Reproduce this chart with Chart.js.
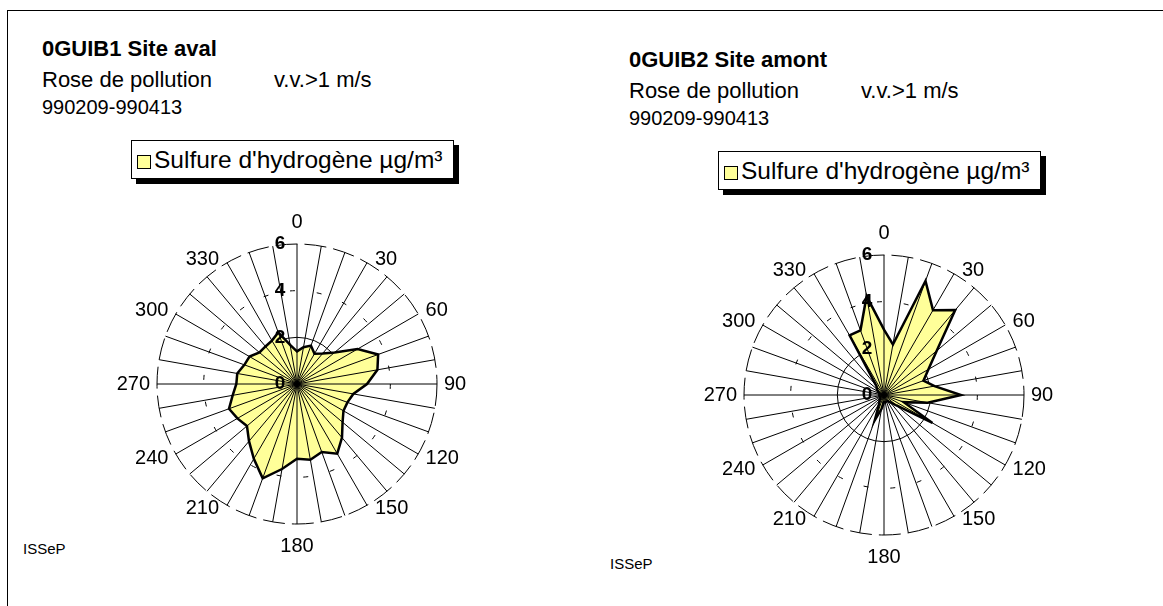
<!DOCTYPE html>
<html>
<head>
<meta charset="utf-8">
<script src="https://cdn.jsdelivr.net/npm/chart.js@4.4.0/dist/chart.umd.min.js"></script>
<style>
  body { margin: 0; width: 1163px; height: 606px; background: #fff; position: relative; overflow: hidden;
         font-family: Arial, "Liberation Sans", sans-serif; color: #000; }
  .frame { position: absolute; left: 7px; top: 10px; width: 1300px; height: 800px; border: 1.5px solid #000; }
  .txt { position: absolute; white-space: nowrap; line-height: 1; }
  .title { font-weight: bold; font-size: 22px; }
  .sub { font-size: 22px; }
  .date { font-size: 20px; }
  .org { font-size: 15px; }
  .legend { position: absolute; width: 321px; height: 37px; border: 1px solid #000; background: #fff;
            box-shadow: 5px 5px 0 #000; font-size: 24.5px; line-height: 37px; white-space: nowrap; }
  .legend .sw { display: inline-block; width: 12px; height: 12px; border: 1px solid #000; background: #FFFF99;
                margin: 0 3px 0 5px; vertical-align: -1px; }
  canvas { position: absolute; }
</style>
</head>
<body>
<div class="frame"></div>
<div id="panels"></div>
<script>
// wind directions (degrees), labelled every 30
const directions = ['0','10','20','30','40','50','60','70','80','90','100','110','120','130','140','150','160','170',
                    '180','190','200','210','220','230','240','250','260','270','280','290','300','310','320','330','340','350'];
const labelEvery = 30;

// H2S concentration per direction, µg/m³
const avalH2S = [1.4, 1.6, 1.75, 1.5, 1.7, 2.1, 3.0, 3.7, 3.5, 3.0, 2.45, 2.3, 2.3, 2.55, 3.0, 3.45, 3.1, 3.3,
                 3.2, 3.7, 4.3, 3.7, 3.2, 2.8, 2.95, 3.1, 2.8, 2.6, 2.6, 2.4, 2.35, 2.1, 2.1, 2.15, 2.35, 1.7];
const amontH2S = [2.8, 2.2, 5.2, 4.2, 4.75, 2.95, 2.2, 1.8, 2.2, 3.3, 1.9, 0.9, 2.4, 0.7, 0.4, 0.3, 0.3, 0.3,
                  0.3, 0.6, 1.15, 0.4, 0.3, 0.2, 0.2, 0.2, 0.2, 0.2, 0.2, 0.2, 0.3, 0.4, 0.5, 2.95, 2.95, 4.3];

const radialMin = 0;
const radialMax = 6;
const radialStep = 2;

const seriesName = "Sulfure d'hydrogène µg/m³";
const panels = [
  { id: 'aval', title: '0GUIB1 Site aval', data: avalH2S, dx: 0, dy: 0, orgDy: 0 },
  { id: 'amont', title: '0GUIB2 Site amont', data: amontH2S, dx: 587, dy: 11, orgDy: 15 }
];

// spokes drawn over the fill, then tick and direction labels
const roseOverlay = {
  id: 'roseOverlay',
  afterDatasetsDraw(chart) {
    const s = chart.scales.r;
    const ctx = chart.ctx;
    const outer = s.getDistanceFromCenterForValue(s.max);
    const labels = chart.data.labels;
    ctx.save();
    ctx.strokeStyle = '#000';
    ctx.lineWidth = 1;
    for (let i = 0; i < labels.length; i++) {
      const p = s.getPointPosition(i, outer);
      ctx.beginPath();
      ctx.moveTo(s.xCenter, s.yCenter);
      ctx.lineTo(p.x, p.y);
      ctx.stroke();
    }

    ctx.fillStyle = '#000';
    ctx.textAlign = 'center';
    ctx.textBaseline = 'middle';
    ctx.font = 'bold 19px Arial, "Liberation Sans", sans-serif';
    s.ticks.forEach(t => {
      ctx.fillText(t.label, s.xCenter - 17, s.yCenter - s.getDistanceFromCenterForValue(t.value));
    });

    ctx.font = '20px Arial, "Liberation Sans", sans-serif';
    labels.forEach((lab, i) => {
      if (Number(lab) % labelEvery) return;
      const a = Number(lab) * Math.PI / 180;
      const sin = Math.sin(a), cos = Math.cos(a);
      const sx = Math.abs(sin) < 0.01 ? 0 : Math.sign(sin);
      const sy = Math.abs(cos) < 0.01 ? 0 : Math.sign(cos);
      const padY = Math.abs(cos) > 0.99 ? 17 : -2;
      const w = ctx.measureText(lab).width;
      const p = s.getPointPosition(i, outer - 2);
      ctx.fillText(lab, p.x + sx * (w / 2 + 9), p.y - sy * (7 + padY));
    });
    ctx.restore();
  }
};

const host = document.getElementById('panels');
panels.forEach(pn => {
  const add = (cls, text, left, top) => {
    const d = document.createElement('div');
    d.className = 'txt ' + cls;
    d.textContent = text;
    d.style.left = (left + pn.dx) + 'px';
    d.style.top = (top + pn.dy) + 'px';
    host.appendChild(d);
  };
  add('title', pn.title, 42, 38);
  add('sub', 'Rose de pollution', 42, 69);
  add('sub', 'v.v.>1 m/s', 274, 69);
  add('date', '990209-990413', 42, 97);

  const org = document.createElement('div');
  org.className = 'txt org';
  org.textContent = 'ISSeP';
  org.style.left = (23 + pn.dx) + 'px';
  org.style.top = (541 + pn.orgDy) + 'px';
  host.appendChild(org);

  const lg = document.createElement('div');
  lg.className = 'legend';
  lg.style.left = (131 + pn.dx) + 'px';
  lg.style.top = (140 + pn.dy) + 'px';
  lg.innerHTML = '<span class="sw"></span>' + seriesName;
  host.appendChild(lg);

  const cv = document.createElement('canvas');
  cv.id = pn.id;
  cv.width = 400;
  cv.height = 400;
  cv.style.left = (97 + pn.dx) + 'px';
  cv.style.top = (184 + pn.dy) + 'px';
  host.appendChild(cv);

  new Chart(cv, {
    type: 'radar',
    data: {
      labels: directions,
      datasets: [{
        label: seriesName,
        data: pn.data,
        borderColor: '#000',
        borderWidth: 2.5,
        backgroundColor: '#FFFF99',
        fill: true,
        pointRadius: 0,
        borderJoinStyle: 'miter'
      }]
    },
    options: {
      responsive: false,
      animation: false,
      layout: { padding: 60 },
      plugins: { legend: { display: false }, tooltip: { enabled: false } },
      scales: {
        r: {
          min: radialMin,
          max: radialMax,
          ticks: { stepSize: radialStep, display: false },
          pointLabels: { display: false },
          angleLines: { display: false },
          grid: { circular: true, color: '#000', lineWidth: 1 },
          border: {
            dash: c => {
              const v = c.tick ? c.tick.value : 0;
              if (v === radialMax) return [22, 7];
              if (v === 4) return [5, 22];
              return [];
            }
          }
        }
      }
    },
    plugins: [roseOverlay]
  });
});
</script>
</body>
</html>
